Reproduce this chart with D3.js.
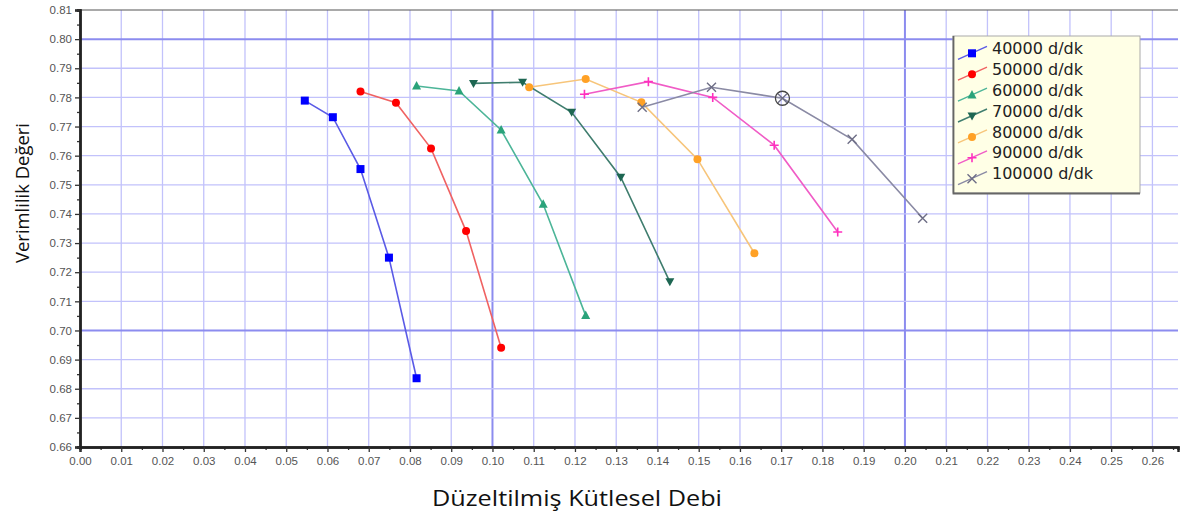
<!DOCTYPE html>
<html>
<head>
<meta charset="utf-8">
<script src="https://cdn.jsdelivr.net/npm/d3@7"></script>
<style>
  body { margin: 0; background: #fff; }
  svg { display: block; }
</style>
</head>
<body>
<svg width="1185" height="523"></svg>
<script>
// series labels (rpm)
var speeds = ["40000 d/dk", "50000 d/dk", "60000 d/dk", "70000 d/dk", "80000 d/dk", "90000 d/dk", "100000 d/dk"];

// corrected mass flow (x) and efficiency (y) per speed line
var debi40 = [0.0545, 0.0613, 0.0680, 0.0749, 0.0816];
var verim40 = [0.7789, 0.7732, 0.7554, 0.7250, 0.6836];
var debi50 = [0.0680, 0.0766, 0.0851, 0.0936, 0.1021];
var verim50 = [0.7820, 0.7782, 0.7625, 0.7341, 0.6941];
var debi60 = [0.0816, 0.0919, 0.1021, 0.1123, 0.1226];
var verim60 = [0.7839, 0.7822, 0.7688, 0.7433, 0.7051];
var debi70 = [0.0954, 0.1073, 0.1192, 0.1311, 0.1430];
var verim70 = [0.7848, 0.7852, 0.7749, 0.7526, 0.7167];
var debi80 = [0.1089, 0.1226, 0.1361, 0.1497, 0.1635];
var verim80 = [0.7835, 0.7863, 0.7783, 0.7588, 0.7265];
var debi90 = [0.1223, 0.1378, 0.1534, 0.1683, 0.1837];
var verim90 = [0.7811, 0.7854, 0.7800, 0.7636, 0.7338];
var debi100 = [0.1363, 0.1531, 0.1703, 0.1872, 0.2043];
var verim100 = [0.7766, 0.7835, 0.7797, 0.7656, 0.7385];

// tick values
var xTicks = d3.range(0, 27).map(function(i) { return i / 100; });
var yTicks = d3.range(66, 82).map(function(i) { return i / 100; });

// highlighted point (index in the 100000 d/dk line)
var circledIndex = 2;

var debiAll = [debi40, debi50, debi60, debi70, debi80, debi90, debi100];
var verimAll = [verim40, verim50, verim60, verim70, verim80, verim90, verim100];

var styles = [
  { marker: "square", fill: "#0000ff", line: "#5a5ae6" },
  { marker: "circle", fill: "#ff0000", line: "#f06262" },
  { marker: "triangle", fill: "#2aa37a", line: "#4cb598" },
  { marker: "triangleDown", fill: "#1d6652", line: "#3f7d6e" },
  { marker: "circle", fill: "#ffa126", line: "#f7c57a" },
  { marker: "plus", fill: "#ff2fbf", line: "#f05cc6" },
  { marker: "cross", fill: "#6e6e86", line: "#8a8aa4" }
];

var series = speeds.map(function(name, i) {
  return {
    name: name,
    style: styles[i],
    points: debiAll[i].map(function(d, j) { return { x: d, y: verimAll[i][j] }; })
  };
});

var svg = d3.select("svg");

var margin = { top: 10, left: 80 };
var plotRight = 1178;
var plotBottom = 447;

var x = d3.scaleLinear().domain([0, 0.2662]).range([margin.left, plotRight]);
var y = d3.scaleLinear().domain([0.66, 0.81]).range([plotBottom, margin.top]);

var isMajor = function(v) { return Math.abs(Math.round(v * 100) % 10) === 0; };

// grid
var grid = svg.append("g");
grid.selectAll("line.vx")
  .data(xTicks.slice(1))
  .enter().append("line")
  .attr("x1", function(d) { return x(d); })
  .attr("x2", function(d) { return x(d); })
  .attr("y1", margin.top)
  .attr("y2", plotBottom)
  .attr("stroke", function(d) { return isMajor(d) ? "#8c8cef" : "#c2c2fb"; })
  .attr("stroke-width", function(d) { return isMajor(d) ? 2 : 1.3; });
grid.selectAll("line.hy")
  .data(yTicks.slice(1, -1))
  .enter().append("line")
  .attr("x1", margin.left)
  .attr("x2", plotRight)
  .attr("y1", function(d) { return y(d); })
  .attr("y2", function(d) { return y(d); })
  .attr("stroke", function(d) { return isMajor(d) ? "#8c8cef" : "#c2c2fb"; })
  .attr("stroke-width", function(d) { return isMajor(d) ? 2 : 1.3; });

// top border
svg.append("line")
  .attr("x1", margin.left).attr("x2", plotRight)
  .attr("y1", margin.top).attr("y2", margin.top)
  .attr("stroke", "#555").attr("stroke-width", 1.2);

// axes
var xAxis = d3.axisBottom(x).tickValues(xTicks).tickSize(5).tickPadding(5)
  .tickFormat(d3.format(".2f"));
var yAxis = d3.axisLeft(y).tickValues(yTicks).tickSize(5).tickPadding(3)
  .tickFormat(d3.format(".2f"));
var xMinor = d3.axisBottom(x).tickValues(xTicks.map(function(d) { return d + 0.005; }))
  .tickSize(3).tickFormat("");
var yMinor = d3.axisLeft(y).tickValues(yTicks.slice(0, -1).map(function(d) { return d + 0.005; }))
  .tickSize(3).tickFormat("");

var styleAxis = function(g) {
  g.select(".domain").attr("stroke", "#222").attr("stroke-width", 2.4);
  g.selectAll(".tick line").attr("stroke", "#333").attr("stroke-width", 1.3);
  g.selectAll(".tick text")
    .attr("fill", "#555")
    .style("font-family", "'Liberation Sans', Arial, sans-serif")
    .style("font-size", "11.5px");
};

svg.append("g").attr("transform", "translate(0," + plotBottom + ")").call(xMinor).call(styleAxis);
svg.append("g").attr("transform", "translate(" + margin.left + ",0)").call(yMinor).call(styleAxis);
svg.append("g").attr("transform", "translate(0," + plotBottom + ")").call(xAxis).call(styleAxis);
svg.append("g").attr("transform", "translate(" + margin.left + ",0)").call(yAxis).call(styleAxis);

// axis titles
svg.append("text")
  .attr("x", 577)
  .attr("y", 506)
  .attr("text-anchor", "middle")
  .attr("textLength", 290)
  .attr("lengthAdjust", "spacingAndGlyphs")
  .style("font-family", "'Open Sans', sans-serif")
  .style("font-size", "22px")
  .attr("fill", "#111")
  .text("Düzeltilmiş Kütlesel Debi");

svg.append("text")
  .attr("transform", "translate(29,193) rotate(-90)")
  .attr("text-anchor", "middle")
  .attr("textLength", 140)
  .attr("lengthAdjust", "spacingAndGlyphs")
  .style("font-family", "'Open Sans', sans-serif")
  .style("font-size", "17.5px")
  .attr("fill", "#111")
  .text("Verimlilik Değeri");

// markers
var drawMarker = function(g, type, color) {
  if (type === "square") {
    g.append("rect").attr("x", -4).attr("y", -4).attr("width", 8).attr("height", 8).attr("fill", color);
  } else if (type === "circle") {
    g.append("circle").attr("r", 4).attr("fill", color);
  } else if (type === "triangle") {
    g.append("path").attr("d", "M0,-5L4.5,3.5L-4.5,3.5Z").attr("fill", color);
  } else if (type === "triangleDown") {
    g.append("path").attr("d", "M0,4.5L4.5,-3.5L-4.5,-3.5Z").attr("fill", color);
  } else if (type === "plus") {
    g.append("path").attr("d", "M-4.5,0H4.5M0,-4.5V4.5").attr("stroke", color).attr("stroke-width", 1.6);
  } else if (type === "cross") {
    g.append("path").attr("d", "M-4.5,-4.5L4.5,4.5M-4.5,4.5L4.5,-4.5").attr("stroke", color).attr("stroke-width", 1.4);
  }
};

var line = d3.line()
  .x(function(d) { return x(d.x); })
  .y(function(d) { return y(d.y); });

var seriesG = svg.selectAll("g.series")
  .data(series)
  .enter().append("g")
  .attr("class", "series");

seriesG.append("path")
  .attr("d", function(d) { return line(d.points); })
  .attr("fill", "none")
  .attr("stroke", function(d) { return d.style.line; })
  .attr("stroke-width", 1.6);

seriesG.each(function(s) {
  var g = d3.select(this);
  s.points.forEach(function(p) {
    var m = g.append("g").attr("transform", "translate(" + x(p.x) + "," + y(p.y) + ")");
    drawMarker(m, s.style.marker, s.style.fill);
  });
});

// circled point on 100000 d/dk
var cp = series[6].points[circledIndex];
svg.append("circle")
  .attr("cx", x(cp.x))
  .attr("cy", y(cp.y))
  .attr("r", 7)
  .attr("fill", "none")
  .attr("stroke", "#444")
  .attr("stroke-width", 1.3);

// legend
var legend = svg.append("g").attr("transform", "translate(953,36)");
legend.append("rect")
  .attr("width", 187)
  .attr("height", 157)
  .attr("fill", "#ffffe6")
  .attr("stroke", "#aaa");
legend.append("path")
  .attr("d", "M0.5,0V157.5H187")
  .attr("fill", "none")
  .attr("stroke", "#666")
  .attr("stroke-width", 1.8);

var rows = legend.selectAll("g.row")
  .data(series)
  .enter().append("g")
  .attr("transform", function(d, i) { return "translate(0," + (12.3 + i * 20.9) + ")"; });

rows.append("line")
  .attr("x1", 5).attr("y1", 11)
  .attr("x2", 34).attr("y2", -2)
  .attr("stroke", function(d) { return d.style.line; })
  .attr("stroke-width", 1.4);
rows.each(function(s) {
  var m = d3.select(this).append("g").attr("transform", "translate(19,5)");
  drawMarker(m, s.style.marker, s.style.fill);
});
rows.append("text")
  .attr("x", 39)
  .attr("y", 0)
  .attr("dy", ".35em")
  .style("font-family", "'DejaVu Sans', Verdana, sans-serif")
  .style("font-size", "16px")
  .attr("fill", "#222")
  .text(function(d) { return d.name; });
</script>
</body>
</html>
